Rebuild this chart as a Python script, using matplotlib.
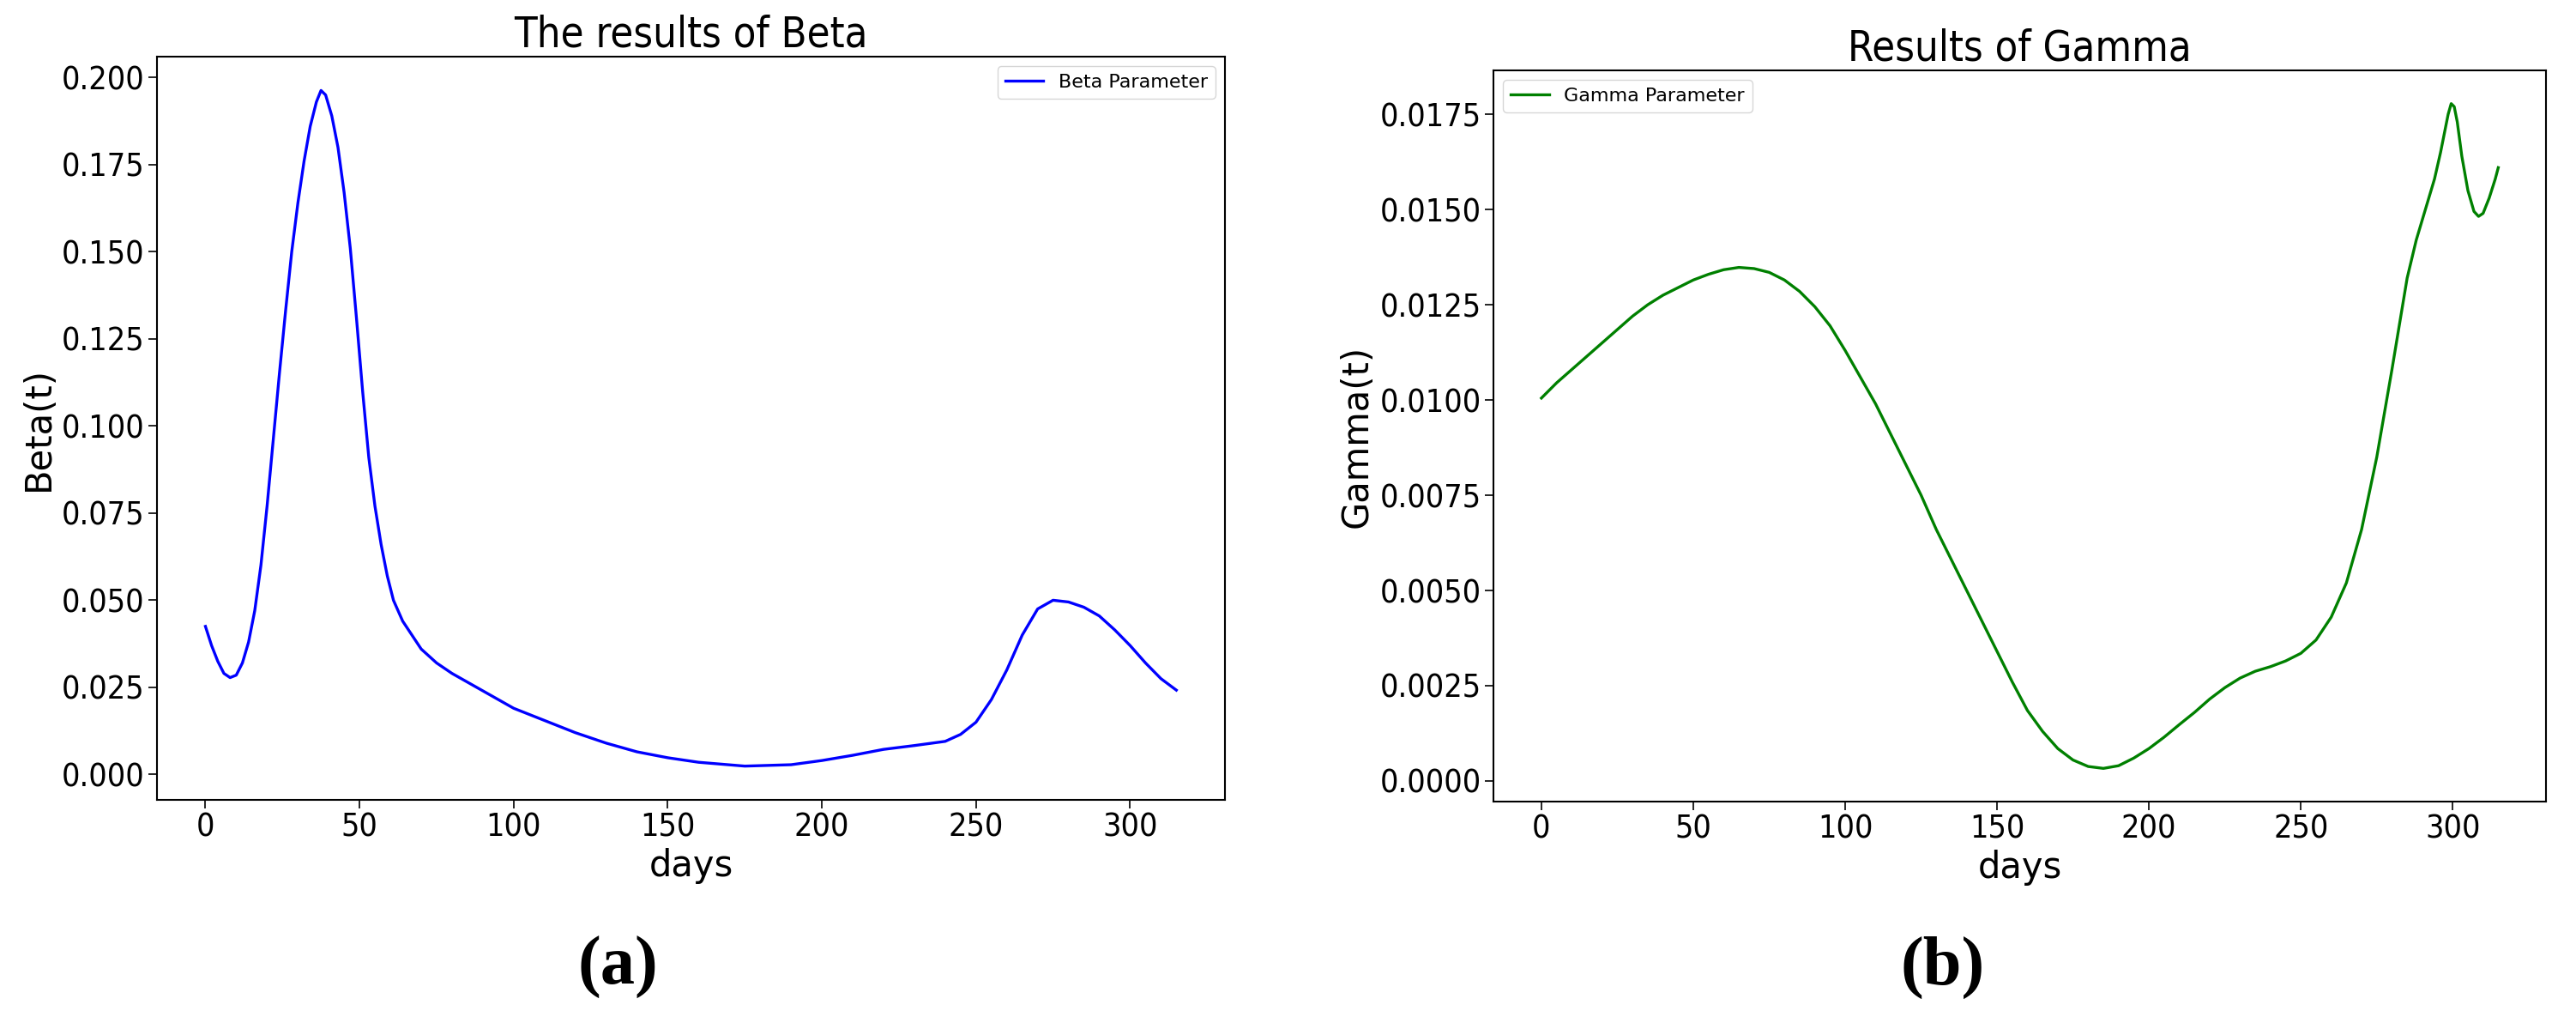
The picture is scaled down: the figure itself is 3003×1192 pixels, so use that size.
import matplotlib
matplotlib.use("Agg")
import matplotlib.pyplot as plt
from matplotlib import font_manager as fm

# Beta(t)
beta_days = [0, 2, 4, 6, 8, 10, 12, 14, 16, 18, 20, 22, 24, 26, 28, 30, 32, 34, 36,
             37.5, 39, 41, 43, 45, 47, 49, 51, 53, 55, 57, 59, 61, 64, 67, 70, 75,
             80, 90, 100, 110, 120, 130, 140, 150, 160, 175, 190, 200, 210, 220,
             230, 240, 245, 250, 255, 260, 265, 270, 275, 280, 285, 290, 295, 300,
             305, 310, 315]
beta_vals = [0.0425, 0.037, 0.0325, 0.029, 0.0278, 0.0285, 0.032, 0.038, 0.047,
             0.060, 0.077, 0.096, 0.115, 0.133, 0.150, 0.164, 0.176, 0.186, 0.193,
             0.1963, 0.195, 0.189, 0.180, 0.167, 0.151, 0.131, 0.110, 0.091, 0.077,
             0.066, 0.057, 0.050, 0.044, 0.040, 0.036, 0.032, 0.029, 0.024, 0.019,
             0.0155, 0.012, 0.009, 0.0065, 0.0048, 0.0035, 0.0024, 0.0028, 0.0040,
             0.0055, 0.0072, 0.0083, 0.0095, 0.0115, 0.0150, 0.0215, 0.030, 0.040,
             0.0475, 0.0500, 0.0495, 0.0480, 0.0455, 0.0415, 0.0370, 0.0320,
             0.0275, 0.0242]

# Gamma(t)
gamma_days = [0, 5, 10, 15, 20, 25, 30, 35, 40, 45, 50, 55, 60, 65, 70, 75, 80, 85,
              90, 95, 100, 105, 110, 115, 120, 125, 130, 135, 140, 145, 150, 155,
              160, 165, 170, 175, 180, 185, 190, 195, 200, 205, 210, 215, 220, 225,
              230, 235, 240, 245, 250, 255, 260, 265, 270, 275, 280, 285, 288, 291,
              294, 296, 297.5, 298.5, 299.5, 300.5, 301.5, 303, 305, 307, 308.5,
              310, 312, 314, 315]
gamma_vals = [0.01005, 0.01045, 0.0108, 0.01115, 0.0115, 0.01185, 0.0122, 0.0125,
              0.01275, 0.01295, 0.01315, 0.0133, 0.01342, 0.01348, 0.01345, 0.01335,
              0.01315, 0.01285, 0.01245, 0.01195, 0.0113, 0.0106, 0.0099, 0.0091,
              0.0083, 0.0075, 0.0066, 0.0058, 0.0050, 0.0042, 0.0034, 0.0026,
              0.00185, 0.0013, 0.00085, 0.00055, 0.00038, 0.00033, 0.0004, 0.0006,
              0.00085, 0.00115, 0.00148, 0.0018, 0.00215, 0.00245, 0.0027, 0.00288,
              0.0030, 0.00315, 0.00335, 0.0037, 0.0043, 0.0052, 0.0066, 0.0085,
              0.0108, 0.0132, 0.0142, 0.0150, 0.0158, 0.0165, 0.0171, 0.0175,
              0.01778, 0.0177, 0.0173, 0.0164, 0.0155, 0.01495, 0.01482, 0.0149,
              0.0153, 0.0158, 0.0161]

beta_ticks = [0.000, 0.025, 0.050, 0.075, 0.100, 0.125, 0.150, 0.175, 0.200]
gamma_ticks = [0.0, 0.0025, 0.0050, 0.0075, 0.0100, 0.0125, 0.0150, 0.0175]
day_ticks = [0, 50, 100, 150, 200, 250, 300]

# the tick labels and titles in the reference look narrow: use a condensed face if one exists
narrow_path = None
for key in ('dejavusanscondensed.ttf', 'liberationsansnarrow-regular.ttf',
            'robotocondensed-regular.ttf', 'condensed', 'narrow'):
    for f in fm.fontManager.ttflist:
        nm = f.fname.lower().split('/')[-1]
        if key in nm and 'bold' not in nm and 'italic' not in nm and 'oblique' not in nm:
            narrow_path = f.fname
            break
    if narrow_path:
        break

if narrow_path:
    tick_fp = fm.FontProperties(fname=narrow_path, size=27)
    title_fp = fm.FontProperties(fname=narrow_path, size=35)
else:
    tick_fp = fm.FontProperties(family='DejaVu Sans', size=24)
    title_fp = fm.FontProperties(family='DejaVu Sans', size=32)

fig = plt.figure(figsize=(30.03, 11.92), dpi=100)

# panel (a)
ax1 = fig.add_axes([0.0609, 0.2181, 0.4146, 0.7265])
ax1.plot(beta_days, beta_vals, color='b', lw=2.4, label='Beta Parameter')
ax1.set_title('The results of Beta', fontproperties=title_fp, pad=8)
ax1.set_xlabel('days', fontsize=30)
ax1.set_ylabel('Beta(t)', fontsize=30)
ax1.set_yticks(beta_ticks)
ax1.set_yticklabels([f'{v:.3f}' for v in beta_ticks], fontproperties=tick_fp)
ax1.legend(loc='upper right', fontsize=16)

# panel (b)
ax2 = fig.add_axes([0.5798, 0.2164, 0.4086, 0.7148])
ax2.plot(gamma_days, gamma_vals, color='g', lw=2.4, label='Gamma Parameter')
ax2.set_title('Results of Gamma', fontproperties=title_fp, pad=8)
ax2.set_xlabel('days', fontsize=30)
ax2.set_ylabel('Gamma(t)', fontsize=30)
ax2.set_yticks(gamma_ticks)
ax2.set_yticklabels([f'{v:.4f}' for v in gamma_ticks], fontproperties=tick_fp)
ax2.legend(loc='upper left', fontsize=16)

for ax in (ax1, ax2):
    ax.set_xticks(day_ticks)
    ax.set_xticklabels([str(d) for d in day_ticks], fontproperties=tick_fp)
    ax.tick_params(length=7, width=1.2)
    for s in ax.spines.values():
        s.set_linewidth(1.5)

fig.text(0.2398, 0.054, '(a)', fontsize=58, fontweight='bold',
         family='Liberation Serif', ha='center', va='center')
fig.text(0.7542, 0.054, '(b)', fontsize=58, fontweight='bold',
         family='Liberation Serif', ha='center', va='center')

fig.savefig('out.png', dpi=100)
